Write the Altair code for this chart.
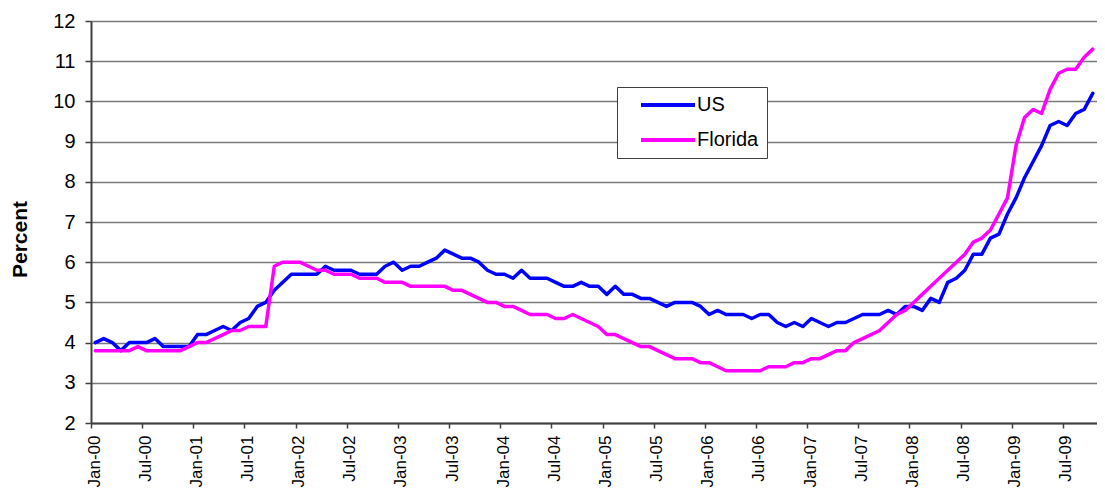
import altair as alt
import pandas as pd

MONTH_NAMES = ["Jan", "Feb", "Mar", "Apr", "May", "Jun", "Jul", "Aug", "Sep", "Oct", "Nov", "Dec"]
YEARS = ["00", "01", "02", "03", "04", "05", "06", "07", "08", "09"]
MONTHS = [f"{m}-{y}" for y in YEARS for m in MONTH_NAMES][:118]  # Jan-00 .. Oct-09

TICK_LABELS = ["Jan-00", "Jul-00", "Jan-01", "Jul-01", "Jan-02", "Jul-02", "Jan-03", "Jul-03",
               "Jan-04", "Jul-04", "Jan-05", "Jul-05", "Jan-06", "Jul-06", "Jan-07", "Jul-07",
               "Jan-08", "Jul-08", "Jan-09", "Jul-09"]

US = [
    4.0, 4.1, 4.0, 3.8, 4.0, 4.0, 4.0, 4.1, 3.9, 3.9, 3.9, 3.9,   # 2000
    4.2, 4.2, 4.3, 4.4, 4.3, 4.5, 4.6, 4.9, 5.0, 5.3, 5.5, 5.7,   # 2001
    5.7, 5.7, 5.7, 5.9, 5.8, 5.8, 5.8, 5.7, 5.7, 5.7, 5.9, 6.0,   # 2002
    5.8, 5.9, 5.9, 6.0, 6.1, 6.3, 6.2, 6.1, 6.1, 6.0, 5.8, 5.7,   # 2003
    5.7, 5.6, 5.8, 5.6, 5.6, 5.6, 5.5, 5.4, 5.4, 5.5, 5.4, 5.4,   # 2004
    5.2, 5.4, 5.2, 5.2, 5.1, 5.1, 5.0, 4.9, 5.0, 5.0, 5.0, 4.9,   # 2005
    4.7, 4.8, 4.7, 4.7, 4.7, 4.6, 4.7, 4.7, 4.5, 4.4, 4.5, 4.4,   # 2006
    4.6, 4.5, 4.4, 4.5, 4.5, 4.6, 4.7, 4.7, 4.7, 4.8, 4.7, 4.9,   # 2007
    4.9, 4.8, 5.1, 5.0, 5.5, 5.6, 5.8, 6.2, 6.2, 6.6, 6.7, 7.2,   # 2008
    7.6, 8.1, 8.5, 8.9, 9.4, 9.5, 9.4, 9.7, 9.8, 10.2,            # 2009
]

FLORIDA = [
    3.8, 3.8, 3.8, 3.8, 3.8, 3.9, 3.8, 3.8, 3.8, 3.8, 3.8, 3.9,   # 2000
    4.0, 4.0, 4.1, 4.2, 4.3, 4.3, 4.4, 4.4, 4.4, 5.9, 6.0, 6.0,   # 2001
    6.0, 5.9, 5.8, 5.8, 5.7, 5.7, 5.7, 5.6, 5.6, 5.6, 5.5, 5.5,   # 2002
    5.5, 5.4, 5.4, 5.4, 5.4, 5.4, 5.3, 5.3, 5.2, 5.1, 5.0, 5.0,   # 2003
    4.9, 4.9, 4.8, 4.7, 4.7, 4.7, 4.6, 4.6, 4.7, 4.6, 4.5, 4.4,   # 2004
    4.2, 4.2, 4.1, 4.0, 3.9, 3.9, 3.8, 3.7, 3.6, 3.6, 3.6, 3.5,   # 2005
    3.5, 3.4, 3.3, 3.3, 3.3, 3.3, 3.3, 3.4, 3.4, 3.4, 3.5, 3.5,   # 2006
    3.6, 3.6, 3.7, 3.8, 3.8, 4.0, 4.1, 4.2, 4.3, 4.5, 4.7, 4.8,   # 2007
    5.0, 5.2, 5.4, 5.6, 5.8, 6.0, 6.2, 6.5, 6.6, 6.8, 7.2, 7.6,   # 2008
    8.9, 9.6, 9.8, 9.7, 10.3, 10.7, 10.8, 10.8, 11.1, 11.3,       # 2009
]

SERIES = ["US", "Florida"]
COLORS = ["#0000FF", "#FF00FF"]
Y_TICKS = [2, 3, 4, 5, 6, 7, 8, 9, 10, 11, 12]

rows = []
for name, vals in (("US", US), ("Florida", FLORIDA)):
    for i, (m, v) in enumerate(zip(MONTHS, vals)):
        rows.append({"series": name, "month": m, "idx": i, "value": v})
df = pd.DataFrame(rows)

FONT = "Liberation Sans"
PLOT_W = 1006
STEP = PLOT_W / len(MONTHS)

chart = alt.Chart(df).mark_line(strokeWidth=3.5, strokeJoin="round", strokeCap="round").encode(
    x=alt.X("month:O", sort=MONTHS, scale=alt.Scale(type="point", padding=0.5),
            axis=alt.Axis(values=TICK_LABELS, labelAngle=-90, title=None,
                          tickOffset=-STEP / 2, labelOffset=3, tickSize=5, labelPadding=7,
                          labelFontSize=17, grid=False)),
    y=alt.Y("value:Q", scale=alt.Scale(domain=[2, 12], nice=False, zero=False),
            axis=alt.Axis(values=Y_TICKS, title="Percent", tickSize=6, labelPadding=10,
                          labelFontSize=20, titleFontSize=21, titleFontWeight="bold",
                          titleX=-71, titleY=218, titleAngle=-90, titleAlign="center",
                          titleBaseline="middle", grid=True)),
    color=alt.Color("series:N", sort=SERIES,
                    scale=alt.Scale(domain=SERIES, range=COLORS),
                    legend=alt.Legend(title=None, orient="none", legendX=526, legendY=66,
                                      symbolType="M-6,0L6,0", symbolSize=81,
                                      symbolStrokeWidth=4, symbolOffset=33,
                                      labelFontSize=20, labelFont=FONT, labelColor="black",
                                      labelOffset=19, rowPadding=15,
                                      padding=8, fillColor="white", strokeColor="#404040")),
    order=alt.Order("idx:Q"),
).properties(
    width=PLOT_W,
    height=402,
    autosize=alt.AutoSizeParams(type="none"),
    padding={"left": 83, "top": 13, "right": 0, "bottom": 66},
).configure_view(
    stroke=None
).configure_axis(
    labelFont=FONT, titleFont=FONT, labelColor="black", titleColor="black",
    domainColor="#404040", domainWidth=2, tickColor="#404040", tickWidth=1.5,
    gridColor="#7a7a7a", gridWidth=1.5,
)

chart.save("out.html", embed_options={"renderer": "svg", "actions": False})
